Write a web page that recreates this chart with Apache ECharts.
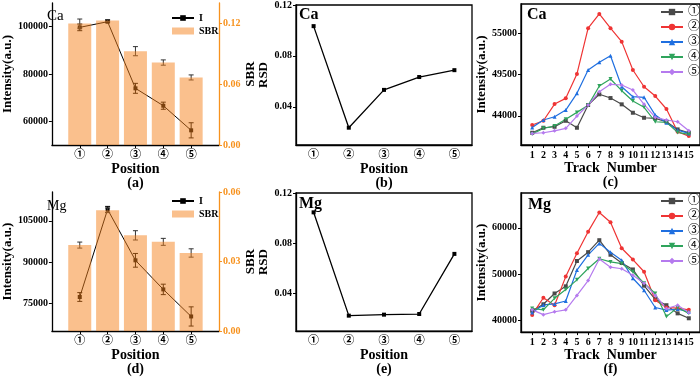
<!DOCTYPE html>
<html>
<head>
<meta charset="utf-8">
<script src="https://cdn.jsdelivr.net/npm/echarts@6/dist/echarts.min.js"></script>
<style>
  html, body { margin: 0; padding: 0; background: #fff; }
  #main { width: 700px; height: 377px; }
</style>
</head>
<body>
<div id="main"></div>
<script>
// categories
var positions = ['①', '②', '③', '④', '⑤'];
var posIndex = [1, 2, 3, 4, 5];
var trackNumbers = [1, 2, 3, 4, 5, 6, 7, 8, 9, 10, 11, 12, 13, 14, 15];

// Ca panels (a)-(c)
var caIntensity = [99700, 102100, 73950, 66600, 56200];
var caIntensityErr = [1400, 400, 2100, 1500, 3200];
var caSbr = [0.1197, 0.1227, 0.0925, 0.0813, 0.0666];
var caSbrErr = [0.0045, 0.001, 0.0045, 0.0026, 0.0025];
var caRsd = [0.1034, 0.0236, 0.0533, 0.0634, 0.0688];
var caTrack1 = [41730, 42400, 42530, 43330, 42400, 45430, 46860, 46360, 45520, 44400, 43730, 43650, 43200, 42180, 41730];
var caTrack2 = [42760, 43330, 45560, 46320, 49570, 55670, 57580, 55670, 53880, 50100, 47870, 46630, 44900, 41860, 41290];
var caTrack3 = [42450, 43430, 43870, 44760, 46990, 50100, 51130, 52010, 47870, 46540, 46460, 44090, 43070, 42090, 41650];
var caTrack4 = [41560, 42320, 42630, 43520, 44450, 45390, 47960, 48900, 47340, 45960, 45120, 43200, 43120, 41780, 41520];
var caTrack5 = [41650, 41730, 41990, 42320, 43960, 45430, 47200, 48190, 48100, 47430, 45520, 43790, 43430, 43200, 42000];

// Mg panels (d)-(f)
var mgIntensity = [77230, 109150, 90600, 80000, 70140];
var mgIntensityErr = [1600, 1100, 2500, 1900, 3500];
var mgSbr = [0.0371, 0.0521, 0.0413, 0.0385, 0.0337];
var mgSbrErr = [0.0013, 0.001, 0.002, 0.0015, 0.0018];
var mgRsd = [0.1046, 0.0223, 0.0231, 0.0236, 0.0715];
var mgTrack1 = [42100, 43500, 45830, 47370, 52840, 54740, 57320, 54190, 52420, 51010, 47520, 44570, 43300, 41540, 40480];
var mgTrack2 = [41200, 44900, 43300, 49470, 54520, 59160, 63300, 61200, 55580, 53150, 50520, 44360, 42800, 42670, 42300];
var mgTrack3 = [41750, 43370, 43580, 44210, 50880, 54170, 56630, 54740, 52980, 49120, 46530, 42800, 42250, 42460, 41890];
var mgTrack4 = [42590, 42300, 44780, 46670, 48770, 51220, 53330, 52630, 52280, 50520, 48060, 45830, 40840, 42800, 41540];
var mgTrack5 = [42300, 41260, 41890, 42300, 45410, 48620, 53260, 51510, 51160, 49750, 48060, 45410, 42590, 43300, 41750];

// tick labels
var caIntTicks = [60000, 80000, 100000];
var caSbrTicks = [0, 0.06, 0.12];
var rsdTicks = [0.04, 0.08, 0.12];
var caTrackTicks = [44000, 49500, 55000];
var mgIntTicks = [75000, 90000, 105000];
var mgSbrTicks = [0, 0.03, 0.06];
var mgTrackTicks = [40000, 50000, 60000];

var trackColors = ['#4a4a4a', '#ef3434', '#1f6fe0', '#2fa45c', '#b57aee'];
var trackSymbols = ['rect', 'circle', 'triangle', 'path://M0,0 L10,0 L5,10 Z', 'diamond'];

var serif = "'Liberation Serif', 'Times New Roman', 'Noto Sans CJK SC', serif";
var orange = '#f7921e';
var barFill = 'rgba(245,130,28,0.5)';

function pairs(xs, ys) {
  return xs.map(function (x, i) { return [x, ys[i]]; });
}

function errBars(xi, yi, xs, ys, es, color) {
  return {
    type: 'custom',
    xAxisIndex: xi,
    yAxisIndex: yi,
    z: 4,
    silent: true,
    data: xs.map(function (x, i) { return [x, ys[i], es[i]]; }),
    renderItem: function (params, api) {
      var x = api.value(0), y = api.value(1), e = api.value(2);
      var hi = api.coord([x, y + e]);
      var lo = api.coord([x, y - e]);
      var st = { stroke: color, lineWidth: 1 };
      return {
        type: 'group',
        children: [
          { type: 'line', shape: { x1: hi[0], y1: hi[1], x2: lo[0], y2: lo[1] }, style: st },
          { type: 'line', shape: { x1: hi[0] - 2.5, y1: hi[1], x2: hi[0] + 2.5, y2: hi[1] }, style: st },
          { type: 'line', shape: { x1: lo[0] - 2.5, y1: lo[1], x2: lo[0] + 2.5, y2: lo[1] }, style: st }
        ]
      };
    }
  };
}

var nameStyle = { fontFamily: serif, fontWeight: 'bold', fontSize: 14, color: '#000', lineHeight: 14 };
var yNameStyle = { fontFamily: serif, fontWeight: 'bold', fontSize: 13, color: '#000' };
var labelStyle = { fontFamily: serif, fontWeight: 'bold', fontSize: 10, color: '#000' };
var blackLine = { show: true, onZero: false, lineStyle: { color: '#000', width: 1.3 } };

function posValueAxis(grid, name) {
  return {
    gridIndex: grid, type: 'value', min: 0, max: 6,
    axisLine: blackLine,
    splitLine: { show: false },
    axisTick: { customValues: posIndex, length: 3, lineStyle: { color: '#000' } },
    axisLabel: Object.assign({ customValues: posIndex, margin: 5,
      formatter: function (v) { return positions[v - 1] || ''; } }, labelStyle, { fontSize: 11 }),
    name: name, nameLocation: 'middle', nameGap: 15, nameTextStyle: nameStyle
  };
}

function posCatAxis(grid, name) {
  return {
    gridIndex: grid, type: 'category', data: positions, boundaryGap: true,
    axisLine: blackLine,
    axisTick: { alignWithLabel: true, length: 3, lineStyle: { color: '#000' } },
    axisLabel: Object.assign({ margin: 5 }, labelStyle, { fontSize: 11 }),
    name: name, nameLocation: 'middle', nameGap: 15, nameTextStyle: nameStyle
  };
}

function trackAxis(grid, name) {
  return {
    gridIndex: grid, type: 'value', min: 0, max: 16,
    axisLine: blackLine,
    splitLine: { show: false },
    axisTick: { customValues: trackNumbers, length: 3, lineStyle: { color: '#000' } },
    axisLabel: Object.assign({ customValues: trackNumbers, margin: 5 }, labelStyle),
    name: name, nameLocation: 'middle', nameGap: 15, nameTextStyle: nameStyle
  };
}

function valAxis(grid, min, max, ticks, digits, name, gap, pos, color) {
  var c = color || '#000';
  return {
    gridIndex: grid, type: 'value', min: min, max: max, position: pos || 'left',
    axisLine: { show: true, onZero: false, lineStyle: { color: c, width: 1.3 } },
    splitLine: { show: false },
    axisTick: { show: true, customValues: ticks, length: 3, lineStyle: { color: c } },
    axisLabel: Object.assign({}, labelStyle, { customValues: ticks, margin: 4, color: c,
      formatter: function (v) { return digits ? v.toFixed(digits) : String(v); } }),
    name: name, nameLocation: 'middle', nameRotate: 90, nameGap: gap,
    nameTextStyle: yNameStyle
  };
}

function trackSeries(xi, yi, lists) {
  return lists.map(function (vals, i) {
    return {
      name: positions[i], type: 'line', xAxisIndex: xi, yAxisIndex: yi,
      data: pairs(trackNumbers, vals),
      symbol: trackSymbols[i], symbolSize: 4,
      color: trackColors[i],
      lineStyle: { width: 1.2 }, z: 3
    };
  });
}

var chart = echarts.init(document.getElementById('main'));

var frame = { show: true, borderColor: '#000', borderWidth: 1.3, backgroundColor: 'transparent' };

var option = {
  animation: false,
  textStyle: { fontFamily: serif },
  title: [
    { text: 'Ca', left: 47, top: 9, padding: 0, textStyle: { fontFamily: serif, fontSize: 15, fontWeight: 'normal', color: '#000' } },
    { text: 'Ca', left: 299, top: 7, padding: 0, textStyle: { fontFamily: serif, fontSize: 16, fontWeight: 'bold', color: '#000' } },
    { text: 'Ca', left: 527, top: 7, padding: 0, textStyle: { fontFamily: serif, fontSize: 16, fontWeight: 'bold', color: '#000' } },
    { text: 'Mg', left: 47, top: 199, padding: 0, textStyle: { fontFamily: serif, fontSize: 14, fontWeight: 'normal', color: '#000' } },
    { text: 'Mg', left: 299, top: 196, padding: 0, textStyle: { fontFamily: serif, fontSize: 16, fontWeight: 'bold', color: '#000' } },
    { text: 'Mg', left: 528, top: 197, padding: 0, textStyle: { fontFamily: serif, fontSize: 16, fontWeight: 'bold', color: '#000' } }
  ],
  legend: [
    { left: 171, top: 13, orient: 'vertical', itemWidth: 22, itemHeight: 7, itemGap: 3, padding: 0,
      data: [{ name: 'I' }, { name: 'SBR', icon: 'rect' }],
      textStyle: { fontFamily: serif, fontWeight: 'bold', fontSize: 10, lineHeight: 7, color: '#000' } },
    { left: 171, top: 196, orient: 'vertical', itemWidth: 22, itemHeight: 7, itemGap: 3, padding: 0,
      data: [{ name: 'I' }, { name: 'SBR', icon: 'rect' }],
      textStyle: { fontFamily: serif, fontWeight: 'bold', fontSize: 10, lineHeight: 7, color: '#000' } },
    { left: 660, top: 6, orient: 'vertical', itemWidth: 22, itemHeight: 8, itemGap: 3, padding: 0,
      data: positions,
      textStyle: { fontSize: 12, lineHeight: 8, color: '#000' } },
    { left: 660, top: 195, orient: 'vertical', itemWidth: 22, itemHeight: 8, itemGap: 3, padding: 0,
      data: positions,
      textStyle: { fontSize: 12, lineHeight: 8, color: '#000' } }
  ],
  grid: [
    { left: 43, top: 3, width: 176, height: 142 },
    Object.assign({ left: 296, top: 4, width: 176, height: 141 }, frame),
    Object.assign({ left: 521, top: 4, width: 180, height: 141 }, frame),
    { left: 43, top: 192, width: 176, height: 143 },
    Object.assign({ left: 296, top: 193, width: 176, height: 142 }, frame),
    Object.assign({ left: 521, top: 193, width: 180, height: 142 }, frame)
  ],
  xAxis: [
    posValueAxis(0, 'Position\n(a)'),
    posCatAxis(1, 'Position\n(b)'),
    trackAxis(2, 'Track  Number\n(c)'),
    posValueAxis(3, 'Position\n(d)'),
    posCatAxis(4, 'Position\n(e)'),
    trackAxis(5, 'Track  Number\n(f)')
  ],
  yAxis: [
    valAxis(0, 50000, 110000, caIntTicks, 0, 'Intensity(a.u.)', 29),            // 0
    valAxis(0, 0, 0.14, caSbrTicks, 2, 'SBR', 23, 'right', orange),             // 1
    valAxis(1, 0.01, 0.12, rsdTicks, 2, 'RSD', 24),                             // 2
    valAxis(2, 40100, 58900, caTrackTicks, 0, 'Intensity(a.u.)', 27),           // 3
    valAxis(3, 64800, 115500, mgIntTicks, 0, 'Intensity(a.u.)', 29),            // 4
    valAxis(3, 0, 0.06, mgSbrTicks, 2, 'SBR', 23, 'right', orange),             // 5
    valAxis(4, 0.01, 0.12, rsdTicks, 2, 'RSD', 24),                             // 6
    valAxis(5, 37500, 67500, mgTrackTicks, 0, 'Intensity(a.u.)', 27)            // 7
  ],
  series: [
    // (a)
    { name: 'I', type: 'line', xAxisIndex: 0, yAxisIndex: 0, data: pairs(posIndex, caIntensity),
      symbol: 'rect', symbolSize: 4, color: '#000', lineStyle: { width: 1 }, z: 2 },
    errBars(0, 0, posIndex, caIntensity, caIntensityErr, '#000'),
    { name: 'SBR', type: 'bar', xAxisIndex: 0, yAxisIndex: 1, data: pairs(posIndex, caSbr),
      barWidth: 23, itemStyle: { color: barFill }, z: 5 },
    errBars(0, 1, posIndex, caSbr, caSbrErr, '#333'),
    // (b)
    { name: 'RSD-Ca', type: 'line', xAxisIndex: 1, yAxisIndex: 2, data: caRsd,
      symbol: 'rect', symbolSize: 4, color: '#000', lineStyle: { width: 1.3 } },
    // (d)
    { name: 'I', type: 'line', xAxisIndex: 3, yAxisIndex: 4, data: pairs(posIndex, mgIntensity),
      symbol: 'rect', symbolSize: 4, color: '#000', lineStyle: { width: 1 }, z: 2 },
    errBars(3, 4, posIndex, mgIntensity, mgIntensityErr, '#000'),
    { name: 'SBR', type: 'bar', xAxisIndex: 3, yAxisIndex: 5, data: pairs(posIndex, mgSbr),
      barWidth: 23, itemStyle: { color: barFill }, z: 5 },
    errBars(3, 5, posIndex, mgSbr, mgSbrErr, '#333'),
    // (e)
    { name: 'RSD-Mg', type: 'line', xAxisIndex: 4, yAxisIndex: 6, data: mgRsd,
      symbol: 'rect', symbolSize: 4, color: '#000', lineStyle: { width: 1.3 } }
  ]
    .concat(trackSeries(2, 3, [caTrack1, caTrack2, caTrack3, caTrack4, caTrack5]))
    .concat(trackSeries(5, 7, [mgTrack1, mgTrack2, mgTrack3, mgTrack4, mgTrack5]))
};

chart.setOption(option);
</script>
</body>
</html>
